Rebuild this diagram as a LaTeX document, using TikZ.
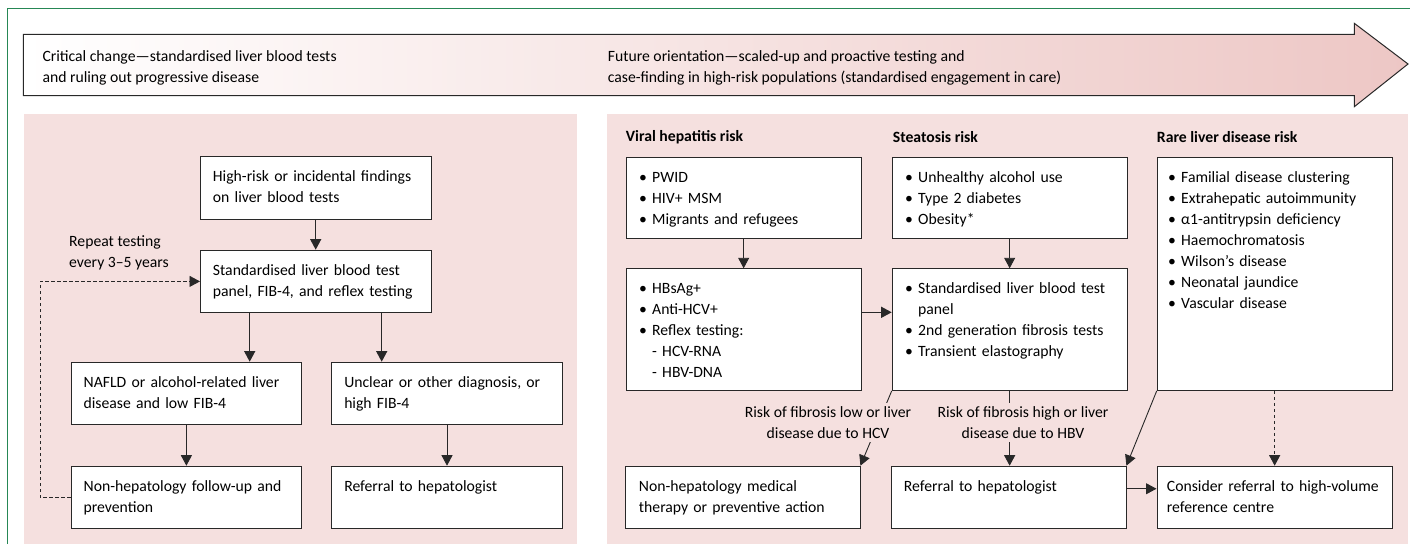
\documentclass[tikz,border=0pt]{standalone}
\usepackage{fontspec}
\setmainfont{Carlito}
\usetikzlibrary{arrows.meta}
\definecolor{framegreen}{RGB}{38,135,85}
\definecolor{panelpink}{RGB}{245,224,223}
\definecolor{arrowpink}{RGB}{237,199,197}
\definecolor{linegray}{RGB}{40,40,40}

\begin{document}
\begin{tikzpicture}[x=1pt, y=-1pt,
		font=\fontsize{15.7}{21}\selectfont,
		box/.style={draw=linegray, line width=0.9pt, fill=white, anchor=north west, align=left,
			inner xsep=13pt, inner ysep=0pt, text height=25pt},
		lbox/.style={box, inner xsep=12.5pt, text width=205.5pt, text depth=37.5pt},
		rbox/.style={box, text width=209pt},
		arr/.style={draw=linegray, line width=0.9pt, -{Triangle[length=10.5pt, width=11pt]}},
		dotarr/.style={arr, dash pattern=on 3.5pt off 2.5pt},
		head/.style={font=\fontsize{15.7}{21}\selectfont\bfseries, anchor=west, inner sep=0pt},
		note/.style={anchor=west, align=left, inner sep=0pt},
		risk/.style={fill=panelpink, align=center, inner xsep=2pt, inner ysep=3pt}]
		\useasboundingbox (0,0) rectangle (1410,544);
		\draw[framegreen, line width=0.9pt] (7.3,544) -- (7.3,8.3) -- (1410,8.3);
		
		\draw[draw=linegray, line width=1pt, left color=white, middle color=arrowpink!45!white, right color=arrowpink]
			(23.3,34.3) -- (1354.3,34.3) -- (1354.3,23.3) -- (1408,64) -- (1354.3,106.7) -- (1354.3,95.7) -- (23.3,95.7) -- cycle;
		\node[note] (critical) at (42.3,67.5) {Critical change—standardised liver blood tests\\and ruling out progressive disease};
		\node[note] (future) at (607.7,67.5) {Future orientation—scaled-up and proactive testing and\\case-finding in high-risk populations (standardised engagement in care)};
		
		\fill[panelpink] (24,114) rectangle (576.7,544);
		\fill[panelpink] (606.7,114) rectangle (1408,544);
		
		\node[lbox] (findings) at (200,156) {High-risk or incidental findings\\on liver blood tests};
		\node[lbox] (panel) at (200,249.7) {Standardised liver blood test\\panel, FIB-4, and reflex testing};
		\node[lbox] (nafld) at (70.7,361.7) {NAFLD or alcohol-related liver\\disease and low FIB-4};
		\node[lbox] (unclear) at (331.3,361.7) {Unclear or other diagnosis, or\\high FIB-4};
		\node[lbox] (followup) at (70.7,465.7) {Non-hepatology follow-up and\\prevention};
		\node[lbox] (referral) at (331.3,465.7) {Referral to hepatologist};
		\node[note] (repeat) at (69,252.7) {Repeat testing\\every 3–5 years};
		
		\draw[arr] (findings) -- (panel);
		\draw[arr] ([xshift=-66pt]panel.south) -- ([xshift=-66pt]panel.south |- nafld.north);
		\draw[arr] ([xshift=66pt]panel.south) -- ([xshift=66pt]panel.south |- unclear.north);
		\draw[arr] (nafld) -- (followup);
		\draw[arr] (unclear) -- (referral);
		\draw[dotarr] (followup.west) -- ++(-30.7,0) |- (panel.west);
		
		\node[head] (viralhd) at (625.7,137) {Viral hepatitis risk};
		\node[head] (steatohd) at (892.7,137) {Steatosis risk};
		\node[head] (rarehd) at (1156.7,137) {Rare liver disease risk};
		
		\node[rbox, text depth=56pt] (viral) at (625.7,156.7) {\textbullet\ PWID\\\textbullet\ HIV+ MSM\\\textbullet\ Migrants and refugees};
		\node[rbox, text depth=96.7pt] (serology) at (625.7,268.3) {\textbullet\ HBsAg+\\\textbullet\ Anti-HCV+\\\textbullet\ Reflex testing:\\\phantom{\textbullet\ }- HCV-RNA\\\phantom{\textbullet\ }- HBV-DNA};
		\node[rbox, text depth=56pt] (steato) at (891.7,156.7) {\textbullet\ Unhealthy alcohol use\\\textbullet\ Type 2 diabetes\\\textbullet\ Obesity*};
		\node[rbox, text depth=96.7pt] (fibrosis) at (891.7,268.3) {\textbullet\ Standardised liver blood test\\\phantom{\textbullet\ }panel\\\textbullet\ 2nd generation fibrosis tests\\\textbullet\ Transient elastography};
		\node[rbox, inner xsep=11pt, text width=213pt, text depth=208.3pt] (rare) at (1156.7,156.7) {\textbullet\ Familial disease clustering\\\textbullet\ Extrahepatic autoimmunity\\\textbullet\ α1-antitrypsin deficiency\\\textbullet\ Haemochromatosis\\\textbullet\ Wilson’s disease\\\textbullet\ Neonatal jaundice\\\textbullet\ Vascular disease};
		\node[rbox, inner xsep=14pt, text width=207pt, text depth=37pt] (medical) at (624.5,465.7) {Non-hepatology medical\\therapy or preventive action};
		\node[rbox, text depth=37pt] (hepato) at (890.5,465.7) {Referral to hepatologist};
		\node[rbox, inner xsep=10pt, text width=215pt, text depth=37pt] (centre) at (1156.5,465.7) {Consider referral to high-volume\\reference centre};
		
		\draw[arr] (viral) -- (serology);
		\draw[arr] (steato) -- (fibrosis);
		\draw[arr] ([yshift=17.3pt]serology.east) -- ([yshift=17.3pt]serology.east -| fibrosis.west);
		\draw[arr] (fibrosis.south west) -- (medical.north east);
		\draw[arr] (fibrosis.south) -- (fibrosis.south |- hepato.north);
		\draw[arr] (rare.south west) -- (hepato.north east);
		\draw[dotarr] (rare.south) -- (rare.south |- centre.north);
		\draw[arr] ([yshift=8.4pt]hepato.east) -- ([yshift=8.4pt]hepato.east -| centre.west);
		
		\node[risk] (lowrisk) at (828,422.5) {Risk of fibrosis low or liver\\disease due to HCV};
		\node[risk] (highrisk) at (1023,422.5) {Risk of fibrosis high or liver\\disease due to HBV};
\end{tikzpicture}
\end{document}
